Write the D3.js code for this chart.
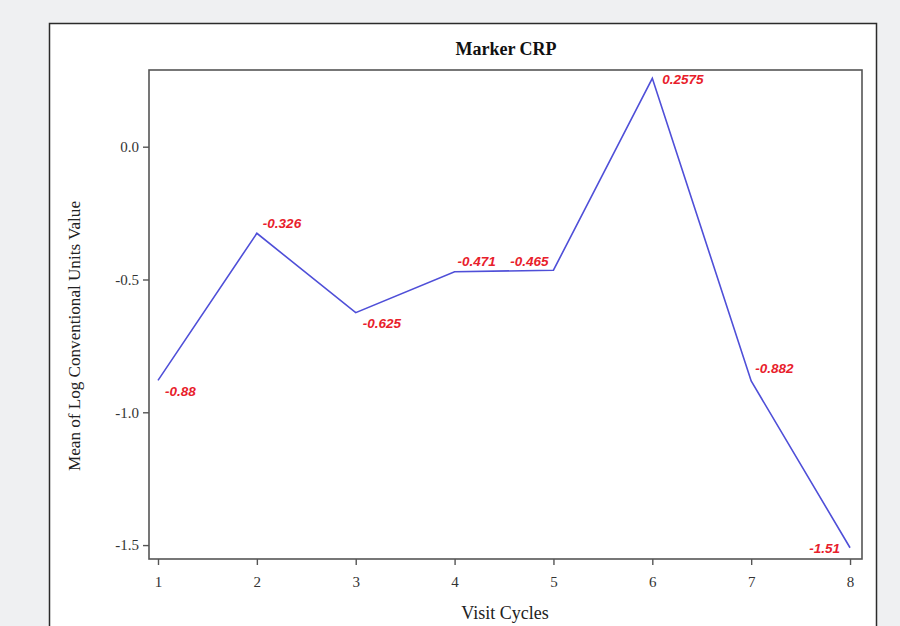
<!DOCTYPE html>
<html>
<head>
<meta charset="utf-8">
<script src="https://cdn.jsdelivr.net/npm/d3@7"></script>
<style>
  html, body { margin: 0; padding: 0; background: #eff0f2; }
  svg { display: block; }
</style>
</head>
<body>
<svg id="chart" width="900" height="626"></svg>
<script>
// ---- data ----
const visitCycles = [1, 2, 3, 4, 5, 6, 7, 8];
const meanValues = [-0.88, -0.326, -0.625, -0.471, -0.465, 0.2575, -0.882, -1.51];
const valueLabels = ["-0.88", "-0.326", "-0.625", "-0.471", "-0.465", "0.2575", "-0.882", "-1.51"];
const yTicks = [0.0, -0.5, -1.0, -1.5];
const xTicks = [1, 2, 3, 4, 5, 6, 7, 8];
const titleText = "Marker CRP";
const xLabelText = "Visit Cycles";
const yLabelText = "Mean of Log Conventional Units Value";

// label placement (layout only)
const labelPlacement = [
  { dx: 7, dy: 15.5, anchor: "start" },
  { dx: 6, dy: -5, anchor: "start" },
  { dx: 7, dy: 15, anchor: "start" },
  { dx: 3, dy: -6, anchor: "start" },
  { dx: -5, dy: -4, anchor: "end" },
  { dx: 10, dy: 6, anchor: "start" },
  { dx: 4, dy: -8, anchor: "start" },
  { dx: -10, dy: 5, anchor: "end" }
];

const svg = d3.select("#chart");
const serif = "'Liberation Serif', 'Times New Roman', serif";
const sans = "'Liberation Sans', Arial, sans-serif";

// outer white panel
svg.append("rect")
  .attr("x", 49.5).attr("y", 23.5)
  .attr("width", 827).attr("height", 640)
  .attr("fill", "#ffffff")
  .attr("stroke", "#2b2b2b").attr("stroke-width", 1.5);

const plot = { left: 149, top: 70, right: 862, bottom: 559 };

const x = d3.scaleLinear().domain([0.909, 8.121]).range([plot.left, plot.right]);
const y = d3.scaleLinear().domain([-1.5524, 0.2888]).range([plot.bottom, plot.top]);

// plot frame
svg.append("rect")
  .attr("x", plot.left).attr("y", plot.top)
  .attr("width", plot.right - plot.left).attr("height", plot.bottom - plot.top)
  .attr("fill", "none")
  .attr("stroke", "#555555").attr("stroke-width", 1.6);

// y axis
const yAxis = svg.append("g")
  .attr("transform", `translate(${plot.left},0)`)
  .call(d3.axisLeft(y).tickValues(yTicks).tickFormat(d3.format(".1f")).tickSize(6).tickPadding(4));
yAxis.select(".domain").remove();
yAxis.selectAll(".tick line").attr("stroke", "#555").attr("stroke-width", 1.4);
yAxis.selectAll(".tick text")
  .attr("font-family", serif).attr("font-size", 15).attr("fill", "#333")
  .text(d => d3.format(".1f")(d).replace("−", "-"));

// x axis
const xAxis = svg.append("g")
  .attr("transform", `translate(0,${plot.bottom})`)
  .call(d3.axisBottom(x).tickValues(xTicks).tickFormat(d3.format("d")).tickSize(6).tickPadding(11));
xAxis.select(".domain").remove();
xAxis.selectAll(".tick line").attr("stroke", "#555").attr("stroke-width", 1.4);
xAxis.selectAll(".tick text")
  .attr("font-family", serif).attr("font-size", 15).attr("fill", "#333");

// line
const line = d3.line().x((d, i) => x(visitCycles[i])).y(d => y(d));
svg.append("path")
  .datum(meanValues)
  .attr("d", line)
  .attr("fill", "none")
  .attr("stroke", "#4f4fd8")
  .attr("stroke-width", 1.6);

// value labels
svg.append("g").selectAll("text")
  .data(meanValues)
  .join("text")
  .attr("x", (d, i) => x(visitCycles[i]) + labelPlacement[i].dx)
  .attr("y", (d, i) => y(d) + labelPlacement[i].dy)
  .attr("text-anchor", (d, i) => labelPlacement[i].anchor)
  .attr("font-family", sans)
  .attr("font-size", 13.5)
  .attr("font-weight", "bold")
  .attr("font-style", "italic")
  .attr("fill", "#e8202b")
  .text((d, i) => valueLabels[i]);

// title
svg.append("text")
  .attr("x", 506).attr("y", 55)
  .attr("text-anchor", "middle")
  .attr("font-family", serif).attr("font-size", 18).attr("font-weight", "bold")
  .attr("fill", "#111")
  .text(titleText);

// x label
svg.append("text")
  .attr("x", 505).attr("y", 619)
  .attr("text-anchor", "middle")
  .attr("font-family", serif).attr("font-size", 18)
  .attr("fill", "#222")
  .text(xLabelText);

// y label
svg.append("text")
  .attr("transform", "translate(80,336) rotate(-90)")
  .attr("text-anchor", "middle")
  .attr("font-family", serif).attr("font-size", 16)
  .attr("fill", "#222")
  .attr("textLength", 270).attr("lengthAdjust", "spacingAndGlyphs")
  .text(yLabelText);
</script>
</body>
</html>
